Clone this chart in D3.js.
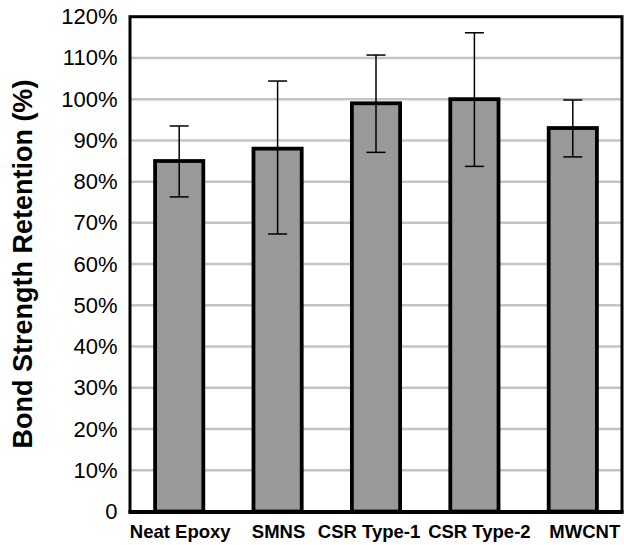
<!DOCTYPE html>
<html>
<head>
<meta charset="utf-8">
<script src="https://cdn.jsdelivr.net/npm/d3@7"></script>
<style>
  body { margin: 0; background: #fff; }
  text { font-family: "Liberation Sans", Arial, sans-serif; }
</style>
</head>
<body>
<div id="chart"></div>
<script>
// values
var categories = ["Neat Epoxy", "SMNS", "CSR Type-1", "CSR Type-2", "MWCNT"];
var retention = [85, 88, 99, 100, 93];
var errLow = [76.3, 67.3, 87.1, 83.7, 86];
var errHigh = [93.5, 104.4, 110.7, 116.1, 99.8];
var yTicks = [0, 10, 20, 30, 40, 50, 60, 70, 80, 90, 100, 110, 120];

var w = 624, h = 545;
// note: "top" is taken by window.top, so the plot edges get their own names
var plotL = 130, plotR = 622, plotT = 16.7, plotB = 511.5;

var svg = d3.select("#chart")
    .append("svg")
    .attr("width", w)
    .attr("height", h);

var x = d3.scaleBand()
    .domain(categories)
    .range([plotL, plotR])
    .paddingInner(0.51)
    .paddingOuter(0.255);

var y = d3.scaleLinear()
    .domain([0, 120])
    .range([plotB, plotT]);

// gridlines
svg.append("g").selectAll("line")
    .data(yTicks.filter(function(d) { return d > 0 && d < 120; }))
    .enter().append("line")
    .attr("x1", plotL).attr("x2", plotR)
    .attr("y1", function(d) { return y(d); })
    .attr("y2", function(d) { return y(d); })
    .style("stroke", "#c4c4c4")
    .style("stroke-width", 2.5);

// y axis labels
var yAxis = d3.axisLeft(y)
    .tickValues(yTicks)
    .tickSize(0)
    .tickPadding(12)
    .tickFormat(function(d) { return d === 0 ? "0" : d + "%"; });

var ya = svg.append("g")
    .attr("transform", "translate(" + (plotL - 0.5) + ",0)")
    .call(yAxis);
ya.select(".domain").remove();
ya.selectAll("text")
    .style("font-family", "'Liberation Sans', Arial, sans-serif")
    .style("font-size", "22px")
    .style("fill", "#000");

// bars
var rows = categories.map(function(c, i) {
    return { name: c, v: retention[i], lo: errLow[i], hi: errHigh[i] };
});

svg.append("g").selectAll("rect")
    .data(rows)
    .enter().append("rect")
    .attr("x", function(d) { return x(d.name); })
    .attr("y", function(d) { return y(d.v); })
    .attr("width", x.bandwidth())
    .attr("height", function(d) { return y(0) - y(d.v); })
    .style("fill", "#999999")
    .style("stroke", "#000")
    .style("stroke-width", 3.8);

// error bars
var eb = svg.append("g").selectAll("g")
    .data(rows)
    .enter().append("g")
    .attr("transform", function(d) { return "translate(" + (x(d.name) + x.bandwidth() / 2) + ",0)"; });

eb.append("line")
    .attr("y1", function(d) { return y(d.lo); })
    .attr("y2", function(d) { return y(d.hi); })
    .style("stroke", "#000").style("stroke-width", 1.5);
eb.append("line")
    .attr("x1", -9.5).attr("x2", 9.5)
    .attr("y1", function(d) { return y(d.hi); })
    .attr("y2", function(d) { return y(d.hi); })
    .style("stroke", "#000").style("stroke-width", 1.5);
eb.append("line")
    .attr("x1", -9.5).attr("x2", 9.5)
    .attr("y1", function(d) { return y(d.lo); })
    .attr("y2", function(d) { return y(d.lo); })
    .style("stroke", "#000").style("stroke-width", 1.5);

// frame
svg.append("rect")
    .attr("x", plotL).attr("y", plotT)
    .attr("width", plotR - plotL).attr("height", plotB - plotT)
    .style("fill", "none")
    .style("stroke", "#000")
    .style("stroke-width", 3);
svg.append("line")
    .attr("x1", plotL - 1.5).attr("x2", plotR + 1.5)
    .attr("y1", plotB + 0.5).attr("y2", plotB + 0.5)
    .style("stroke", "#000").style("stroke-width", 4);

// category labels (nudged sideways like the original so they don't collide)
var nudge = [1, 1, -7, 5, 12];
svg.append("g").selectAll("text")
    .data(rows)
    .enter().append("text")
    .attr("x", function(d, i) { return x(d.name) + x.bandwidth() / 2 + nudge[i]; })
    .attr("y", 538)
    .attr("text-anchor", "middle")
    .style("font-size", "18.5px")
    .style("font-weight", "bold")
    .text(function(d) { return d.name; });

// axis title
svg.append("text")
    .attr("transform", "translate(32," + ((plotT + plotB) / 2) + ") rotate(-90)")
    .attr("text-anchor", "middle")
    .style("font-size", "27px")
    .style("font-weight", "bold")
    .text("Bond Strength Retention (%)");
</script>
</body>
</html>
